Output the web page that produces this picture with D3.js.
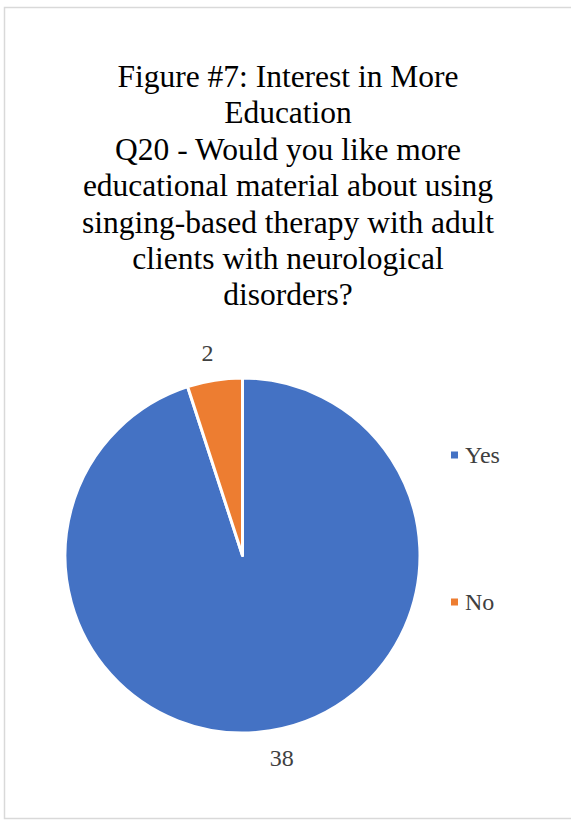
<!DOCTYPE html>
<html>
<head>
<meta charset="utf-8">
<script src="https://cdn.jsdelivr.net/npm/d3@7"></script>
<style>
  html, body { margin: 0; padding: 0; background: #fff; }
  svg { display: block; }
</style>
</head>
<body>
<svg id="chart" width="571" height="823"></svg>
<script>
// Survey responses for Q20
const categories = ["Yes", "No"];
const counts = [38, 2];
const colors = ["#4472C4", "#ED7D31"];
const titleLines = [
  "Figure #7: Interest in More",
  "Education",
  "Q20 - Would you like more",
  "educational material about using",
  "singing-based therapy with adult",
  "clients with neurological",
  "disorders?"
];

const svg = d3.select("#chart");
const W = 571, H = 823;
const serif = "'Liberation Serif', 'Times New Roman', serif";

// chart frame
svg.append("rect")
  .attr("x", 4.5).attr("y", 7.5)
  .attr("width", W + 10).attr("height", 811)
  .attr("fill", "#fff")
  .attr("stroke", "#d9d9d9")
  .attr("stroke-width", 1.5);

// title
const title = svg.append("text")
  .attr("text-anchor", "middle")
  .attr("font-family", serif)
  .attr("font-size", 31.5)
  .attr("fill", "#000");
titleLines.forEach((line, i) => {
  title.append("tspan")
    .attr("x", 288)
    .attr("y", 87 + i * 36.4)
    .text(line);
});

// pie
const cx = 242.5, cy = 555.5, r = 177.5;
const data = categories.map((c, i) => ({ category: c, value: counts[i] }));
const pie = d3.pie().value(d => d.value).sort(null);
const arcs = pie(data);
const arc = d3.arc().innerRadius(0).outerRadius(r);
const labelArc = d3.arc().innerRadius(r + 19).outerRadius(r + 19);
const color = d3.scaleOrdinal().domain(categories).range(colors);

const g = svg.append("g").attr("transform", `translate(${cx},${cy})`);
g.selectAll("path.slice")
  .data(arcs)
  .enter().append("path")
  .attr("class", "slice")
  .attr("d", arc)
  .attr("fill", d => color(d.data.category))
  .attr("stroke", "#fff")
  .attr("stroke-width", 3)
  .attr("stroke-linejoin", "round");

// value labels sit just outside the rim, pushed away from the pie
const labelSize = 24;
g.selectAll("text.value")
  .data(arcs)
  .enter().append("text")
  .attr("class", "value")
  .attr("text-anchor", "middle")
  .attr("font-family", serif)
  .attr("font-size", labelSize)
  .attr("fill", "#404040")
  .text(d => d.data.value)
  .each(function (d) {
    const [px, py] = labelArc.centroid(d);
    const w = this.getComputedTextLength();
    const h = labelSize * 0.7;
    const x = px + Math.sign(px) * w * 0.35;
    const y = py + Math.sign(py) * h / 2;
    d3.select(this).attr("x", x).attr("y", y).attr("dy", "0.35em");
  });

// legend
const legendY = d3.scalePoint().domain(categories).range([455, 602]);
const legend = svg.append("g");
categories.forEach(c => {
  legend.append("rect")
    .attr("x", 451).attr("y", legendY(c) - 3.5)
    .attr("width", 7).attr("height", 7)
    .attr("fill", color(c));
  legend.append("text")
    .attr("x", 465).attr("y", legendY(c))
    .attr("dy", "0.35em")
    .attr("font-family", serif)
    .attr("font-size", labelSize)
    .attr("fill", "#404040")
    .text(c);
});
</script>
</body>
</html>
